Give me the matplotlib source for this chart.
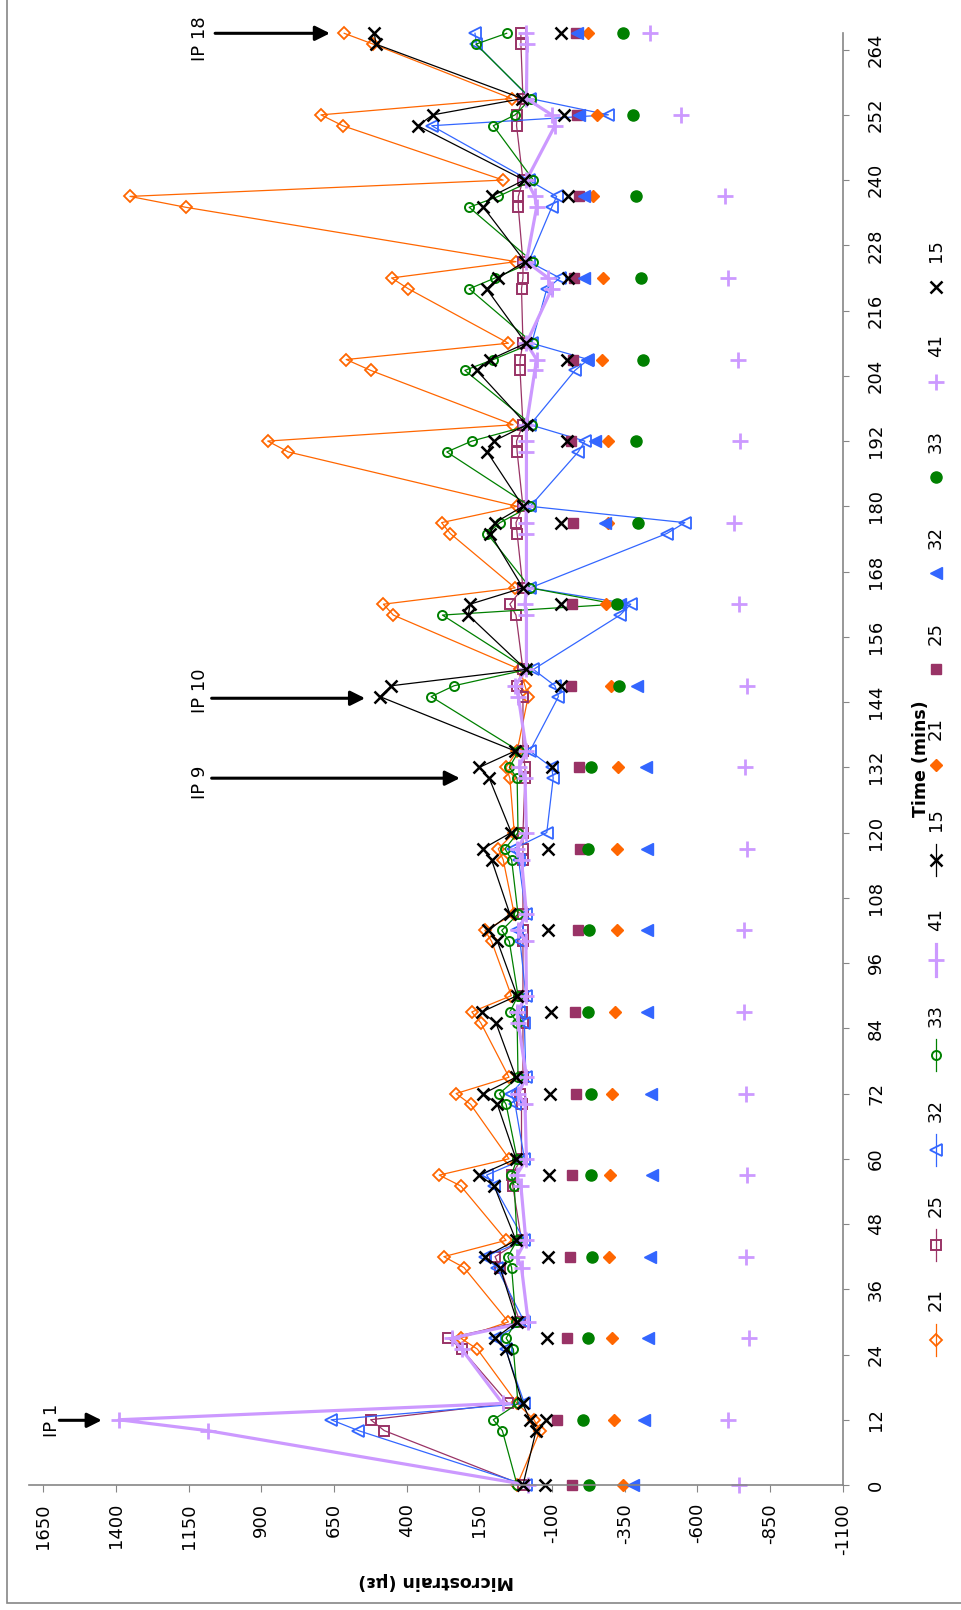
import numpy as np
import matplotlib.pyplot as plt
from matplotlib.patches import Rectangle

plt.rcParams["axes.unicode_minus"] = False

# time of each reading (mins)
times = [0, 10, 12, 15, 25, 27, 30, 40, 42, 45, 55, 57, 60, 70, 72, 75, 85, 87, 90,
         100, 102, 105, 115, 117, 120, 130, 132, 135, 145, 147, 150, 160, 162, 165,
         175, 177, 180, 190, 192, 195, 205, 207, 210, 220, 222, 225, 235, 237, 240,
         250, 252, 255, 265, 267]

# gauge readings (microstrain), one value per time above
g21 = [20, -59, -38, 20, 157, 214, 50, 203, 272, 58, 214, 288, 48, 180, 230, 48, 145, 176, 40,
       108, 131, 30, 68, 85, 30, 45, 58, 20, -18, -7, 10, 446, 480, 27,
       250, 280, 20, 807, 878, 34, 524, 608, 50, 394, 452, 24, 1160, 1352, 68,
       620, 695, 39, 515, 615]
g25 = [0, 477, 524, 50, 211, 257, 10, 79, 96, 5, 35, 39, 5, 5, 10, 0, 0, 5, 0,
       0, 0, 0, 0, 0, 0, -7, -7, 0, 0, 22, 0, 24, 45, 0,
       20, 24, 0, 20, 22, 0, 10, 10, 0, 5, 0, 0, 16, 16, 0,
       22, 20, 0, 7, 7]
g32 = [-10, 566, 660, -5, 60, 95, -5, 90, 130, -5, 100, 125, -5, 27, 41, -10, -5, 15, -10,
       10, 22, -10, 15, 33, -82, -104, -99, -24, -122, -110, -36, -334, -371, -25,
       -495, -557, -25, -190, -213, -25, -179, -225, -30, -82, -127, -20, -99, -116, -20,
       314, -294, -25, 160, 165]
g33 = [20, 71, 102, 17, 33, 58, 24, 39, 52, 20, 30, 40, 20, 58, 81, 17, 20, 45, 17,
       47, 73, 17, 39, 62, 17, 20, 47, 14, 316, 237, -15, 277, -320, -25,
       123, 79, -25, 262, 176, -30, 200, 102, -34, 185, 96, -34, 185, 85, -36,
       102, 27, -27, 162, 56]
g41 = [-18, 1085, 1390, 70, 211, 245, -18, 5, 20, -10, 7, 22, -12, -7, 16, -12, 16, 20, -12,
       -10, 16, -12, 5, 19, -12, -7, 14, -12, 16, 27, -12, -12, -7, -12,
       -12, -10, -12, -12, -12, -12, -41, -47, -12, -99, -87, -12, -47, -41, -12,
       -110, -99, -12, -14, -12]
g15 = [0, -45, -24, 1, 59, 96, 20, 79, 131, 24, 99, 150, 24, 88, 136, 24, 93, 142, 20,
       88, 119, 45, 108, 139, 40, 116, 150, 27, 492, 453, -10, 188, 182, 0,
       113, 96, 0, 123, 100, -13, 159, 113, -10, 125, 85, -7, 136, 108, -4,
       362, 310, 2, 506, 511]

# second set of readings, taken only at the impact times
t_imp = [0, 12, 27, 42, 57, 72, 87, 102, 117, 132, 147, 162, 177, 192, 207, 222, 237, 252, 267]
f21 = [-345, -313, -307, -296, -299, -306, -317, -322, -324, -328, -302, -286, -293, -293, -273, -276, -242, -254, -225]
f25 = [-168, -118, -150, -162, -170, -182, -179, -188, -196, -194, -165, -170, -173, -164, -173, -177, -194, -185, -182]
f32 = [-380, -416, -431, -437, -445, -441, -426, -426, -426, -422, -393, -335, -282, -248, -219, -211, -210, -194, -185]
f33 = [-227, -208, -223, -236, -233, -233, -223, -228, -223, -233, -331, -322, -397, -388, -414, -406, -388, -380, -345]
f41 = [-744, -706, -779, -767, -772, -767, -760, -760, -770, -764, -772, -744, -727, -747, -739, -706, -695, -544, -437]
f15 = [-76, -81, -84, -87, -91, -93, -95, -87, -87, -101, -130, -130, -130, -150, -150, -154, -154, -142, -131]

# impact point arrows: label, time, tail, head, label position
ip_labels = ["IP 1", "IP 9", "IP 10", "IP 18"]
ip_time = [11.9, 130, 144.7, 267]
ip_tail = [1595, 1071, 1071, 1059]
ip_head = [1449, 217, 543, 664]
ip_text_x = [1620, 1111, 1111, 1111]
ip_text_t = [11.8, 129.2, 146, 266]

c21, c25, c32, c33, c41, c15 = "#FF6600", "#993366", "#3366FF", "#008000", "#CC99FF", "black"
grey = "#868686"
fs = 13

W, H = 962, 1610
fig = plt.figure(figsize=(W / 100, H / 100), dpi=100)
x0, x1, y0, y1 = 28.8, 842.7, 33.3, 1485
ax = fig.add_axes([x0 / W, 1 - y1 / H, (x1 - x0) / W, (y1 - y0) / H])

# rotated chart: time runs up the page, strain runs right-to-left
line_styles = [
    (g21, c21, "D", 6, 0.9, 1.3),
    (g25, c25, "s", 7, 0.9, 1.4),
    (g32, c32, "<", 8, 0.9, 1.3),
    (g33, c33, "o", 6.5, 0.9, 1.4),
    (g41, c41, "+", 12, 2.3, 2.0),
    (g15, c15, "x", 9, 0.9, 1.8),
]
for vals, col, mk, ms, lw, mew in line_styles:
    ax.plot(vals, times, color=col, lw=lw, marker=mk, ms=ms, mfc="none",
            mec=col, mew=mew, clip_on=False)

dot_styles = [
    (f21, c21, "D", 6.5, 1),
    (f25, c25, "s", 7.5, 1),
    (f32, c32, "<", 9, 1),
    (f33, c33, "o", 8, 1),
    (f41, c41, "+", 12, 2.0),
    (f15, c15, "x", 9, 1.8),
]
for vals, col, mk, ms, mew in dot_styles:
    ax.plot(vals, t_imp, ls="none", marker=mk, ms=ms, color=col, mec=col, mew=mew,
            clip_on=False)

ax.set_xlim(1700, -1100)
ax.set_ylim(0, 267)
ax.set_xticks(np.arange(1650, -1101, -250))
ax.set_yticks(np.arange(0, 265, 12))
ax.yaxis.tick_right()
for s in ["top", "left"]:
    ax.spines[s].set_visible(False)
for s in ["bottom", "right"]:
    ax.spines[s].set_color(grey)
    ax.spines[s].set_linewidth(1.2)
ax.tick_params(axis="x", direction="out", length=5, color=grey, labelsize=fs,
               labelrotation=90, pad=8)
ax.tick_params(axis="y", direction="out", length=4.5, color=grey, labelsize=fs,
               labelrotation=90, pad=13)
for lab in ax.get_yticklabels():
    lab.set_verticalalignment("center")

for lab, t, tail, head, tx, tt in zip(ip_labels, ip_time, ip_tail, ip_head, ip_text_x, ip_text_t):
    ax.annotate("", xy=(head, t), xytext=(tail, t),
                arrowprops=dict(arrowstyle="-|>", color="black", lw=2.2,
                                mutation_scale=22, shrinkA=0, shrinkB=0))
    ax.text(tx, tt, lab, rotation=90, ha="center", va="center", fontsize=fs)

# overlay in pixel coordinates for titles, legend and chart border
lax = fig.add_axes([0, 0, 1, 1], zorder=-1)
lax.set_xlim(0, W)
lax.set_ylim(H, 0)
lax.axis("off")
lax.add_patch(Rectangle((6.7, -20), W + 40, 1602.7 + 20, fill=False, ec=grey, lw=1.2))
lax.text(435.8, 1581, "Microstrain (µε)", rotation=180, ha="center", va="center",
         fontsize=12.5, fontweight="bold")
lax.text(921, 759, "Time (mins)", rotation=90, ha="center", va="center",
         fontsize=12.5, fontweight="bold")

leg_names = ["21", "25", "32", "33", "41", "15"]
leg_y_line = [1340, 1245, 1150, 1055, 960, 860]
leg_y_dot = [765, 669, 573, 477, 382, 287]
lx = 936
for (vals, col, mk, ms, lw, mew), name, y in zip(line_styles, leg_names, leg_y_line):
    lax.plot([lx, lx], [y - 16, y + 16], color=col, lw=lw)
    lax.plot([lx], [y], marker=mk, ms=ms, mfc="none", mec=col, mew=mew)
    lax.text(lx, y - 40, name, rotation=90, ha="center", va="center", fontsize=fs)
for (vals, col, mk, ms, mew), name, y in zip(dot_styles, leg_names, leg_y_dot):
    lax.plot([lx], [y], marker=mk, ms=ms, color=col, mec=col, mew=mew)
    lax.text(lx, y - 36, name, rotation=90, ha="center", va="center", fontsize=fs)

fig.savefig("out.png", dpi=100)
